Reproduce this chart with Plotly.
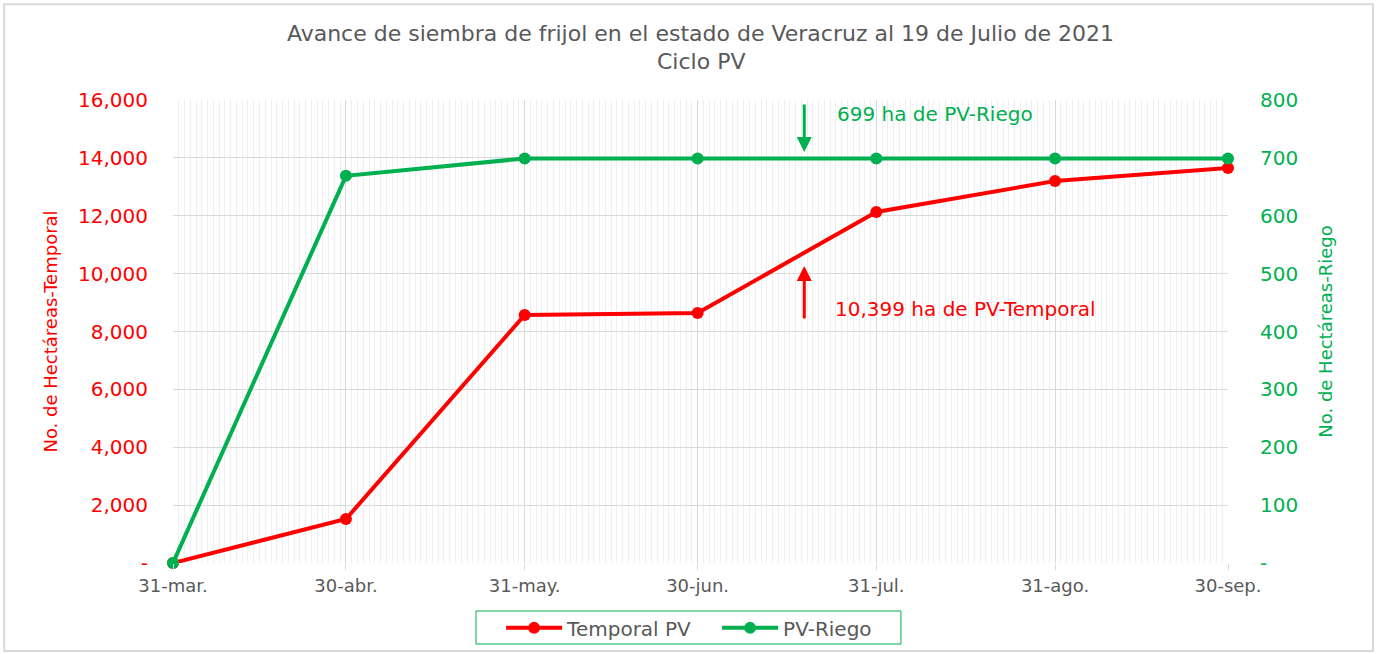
import plotly.graph_objects as go

dates = ["2021-03-31", "2021-04-30", "2021-05-31", "2021-06-30", "2021-07-31", "2021-08-31", "2021-09-30"]
tick_labels = ["31-mar.", "30-abr.", "31-may.", "30-jun.", "31-jul.", "31-ago.", "30-sep."]
temporal_pv = [0, 1520, 8570, 8640, 12130, 13200, 13650]
pv_riego = [0, 669, 699, 699, 699, 699, 699]
left_ticks = [0, 2000, 4000, 6000, 8000, 10000, 12000, 14000, 16000]
left_labels = ["-", "2,000", "4,000", "6,000", "8,000", "10,000", "12,000", "14,000", "16,000"]
right_ticks = [0, 100, 200, 300, 400, 500, 600, 700, 800]
right_labels = ["-", "100", "200", "300", "400", "500", "600", "700", "800"]
arrow_date = "2021-07-18 12:00"

RED = "#FF0000"
GREEN = "#00B050"
GRAY = "#595959"
FONT = "DejaVu Sans"

fig = go.Figure()
fig.add_trace(go.Scatter(x=dates, y=temporal_pv, name="Temporal PV", mode="lines+markers",
                         line=dict(color=RED, width=4), marker=dict(size=12, color=RED),
                         cliponaxis=False))
fig.add_trace(go.Scatter(x=dates, y=pv_riego, name="PV-Riego", mode="lines+markers", yaxis="y2",
                         line=dict(color=GREEN, width=4), marker=dict(size=12, color=GREEN),
                         cliponaxis=False))

fig.update_layout(
    width=1377, height=654,
    margin=dict(l=173, r=149, t=100, b=91, autoexpand=False),
    paper_bgcolor="white", plot_bgcolor="white",
    font=dict(family=FONT, color=GRAY),
    title=dict(text="Avance de siembra de frijol en el estado de Veracruz al 19 de Julio de 2021",
               x=0.5, xref="paper", xanchor="center", y=1 - 33.5 / 654, yanchor="middle",
               font=dict(size=22, color=GRAY, family=FONT)),
    xaxis=dict(type="date", range=[dates[0], dates[-1]], tickmode="array", tickvals=dates,
               ticktext=tick_labels, tickfont=dict(size=18, color=GRAY), automargin=False,
               showgrid=True, gridcolor="#D9D9D9", gridwidth=1,
               ticks="outside", ticklen=6, tickcolor="#D9D9D9",
               minor=dict(tickmode="linear", tick0=dates[0], dtick=86400000,
                          showgrid=True, gridcolor="#EFEFEF", gridwidth=1),
               showline=False, zeroline=False, fixedrange=True),
    yaxis=dict(range=[0, 16000], tickmode="array", tickvals=left_ticks, ticktext=left_labels,
               tickfont=dict(size=20, color=RED), showgrid=True, gridcolor="#D9D9D9",
               zeroline=False, ticks="", ticklabelstandoff=24, automargin=False,
               title=dict(text="No. de Hectáreas-Temporal", font=dict(size=18, color=RED), standoff=15)),
    yaxis2=dict(range=[0, 800], overlaying="y", side="right", tickmode="array", tickvals=right_ticks,
                ticktext=right_labels, tickfont=dict(size=20, color=GREEN), showgrid=False,
                zeroline=False, ticklabelstandoff=31, automargin=False,
                title=dict(text="No. de Hectáreas-Riego", font=dict(size=18, color=GREEN), standoff=22)),
    legend=dict(orientation="h", x=0.311, xanchor="left", y=-0.098, yanchor="top",
                borderwidth=0, bgcolor="rgba(0,0,0,0)", font=dict(size=20, color=GRAY),
                entrywidth=145, itemwidth=56),
    showlegend=True,
)

fig.add_annotation(x=0.5, y=(563 - 61) / 463, xref="paper", yref="paper", xanchor="center", yanchor="middle",
                   text="Ciclo PV", showarrow=False, font=dict(size=22, color=GRAY))
fig.add_annotation(x=arrow_date, y=710, xref="x", yref="y2", ax=arrow_date, ay=795, axref="x", ayref="y2",
                   showarrow=True, arrowhead=2, arrowsize=1, arrowwidth=3, arrowcolor=GREEN, text="",
                   standoff=0)
fig.add_annotation(x=arrow_date, y=10263, xref="x", yref="y", ax=arrow_date, ay=8397, axref="x", ayref="y",
                   showarrow=True, arrowhead=2, arrowsize=1, arrowwidth=3, arrowcolor=RED, text="",
                   standoff=0)
fig.add_annotation(x=0.6275, y=15516, xref="paper", yref="y", xanchor="left", yanchor="middle",
                   text="699 ha de PV-Riego", showarrow=False, font=dict(size=20, color=GREEN))
fig.add_annotation(x=0.6256, y=8777, xref="paper", yref="y", xanchor="left", yanchor="middle",
                   text="10,399 ha de PV-Temporal", showarrow=False, font=dict(size=20, color=RED))

# legend frame
fig.add_shape(type="rect", xref="paper", yref="paper", x0=0.2872, x1=0.690, y0=-0.175, y1=-0.1037,
              line=dict(color=GREEN, width=1), fillcolor="rgba(0,0,0,0)")
# outer chart border
fig.add_shape(type="rect", xref="paper", yref="paper", x0=-0.160, x1=1.1374, y0=-0.19, y1=1.207,
              line=dict(color="#D9D9D9", width=2), fillcolor="rgba(0,0,0,0)", layer="below")

fig.write_html("out.html", config={"displayModeBar": False},
               post_script="document.body.style.margin='0';")
